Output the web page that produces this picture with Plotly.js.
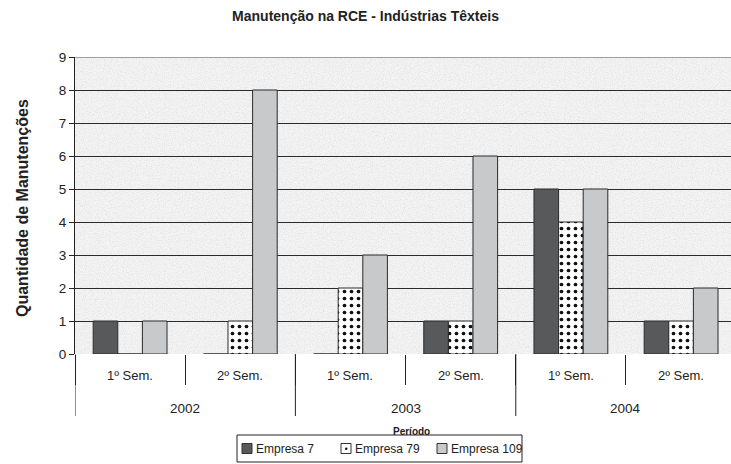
<!DOCTYPE html>
<html>
<head>
<meta charset="utf-8">
<script src="https://cdn.plot.ly/plotly-3.0.1.min.js"></script>
<style>html,body{margin:0;padding:0;background:#fff;}#chart{width:731px;height:464px;}</style>
</head>
<body>
<div id="chart"></div>
<script>
const years = ["2002", "2002", "2003", "2003", "2004", "2004"];
const semesters = ["1º Sem.", "2º Sem.", "1º Sem.", "2º Sem.", "1º Sem.", "2º Sem."];
const seriesNames = ["Empresa 7", "Empresa 79", "Empresa 109"];
const empresa7 = [1, 0, 0, 1, 5, 1];
const empresa79 = [0, 1, 2, 1, 4, 1];
const empresa109 = [1, 8, 3, 6, 5, 2];
const yTicks = [0, 1, 2, 3, 4, 5, 6, 7, 8, 9];

const categories = years.map((y, i) => y + ' ' + semesters[i]);

// plot-area geometry helpers (pixels -> paper)
const L = 75, R = 731, T = 57, B = 354;
const px = p => (p - L) / (R - L);
const py = p => (B - p) / (B - T);

const FONT = '"Liberation Sans", Arial, Helvetica, sans-serif';
const INK = '#222';

const noise = 'data:image/svg+xml;utf8,' + encodeURIComponent(
  '<svg xmlns="http://www.w3.org/2000/svg" width="656" height="297">' +
  '<filter id="n" x="0" y="0" width="100%" height="100%"><feTurbulence type="fractalNoise" baseFrequency="0.85" numOctaves="2" seed="3" result="t"/>' +
  '<feColorMatrix in="t" type="matrix" values="0 0 0 0 0.6  0 0 0 0 0.6  0 0 0 0 0.6  0 0 0 -3 1.65"/></filter>' +
  '<rect width="100%" height="100%" fill="#f3f3f3"/>' +
  '<rect width="100%" height="100%" filter="url(#n)" opacity="0.35"/></svg>');

const line = {color: '#2b2b2b', width: 1};
const fills = ['#58595b', '#ffffff', '#c8c9cb'];
const values = [empresa7, empresa79, empresa109];
const traces = values.map((v, k) => ({
  type: 'bar', name: seriesNames[k], x: categories, y: v, showlegend: false,
  marker: k === 1
    ? {color: '#ffffff', line: line, pattern: {shape: '.', fgcolor: '#111', bgcolor: '#ffffff', size: 7, solidity: 0.22}}
    : {color: fills[k], line: line}
}));

const annotations = [];
const shapes = [];

// semester labels
categories.forEach((c, i) => {
  annotations.push({xref: 'x', yref: 'paper', x: c, y: py(376), text: semesters[i],
    showarrow: false, xanchor: 'center', yanchor: 'middle', font: {size: 13, color: INK, family: FONT}});
});
// year labels and dividers
const uniqueYears = [...new Set(years)];
uniqueYears.forEach(yr => {
  const idx = years.map((y, i) => y === yr ? i : -1).filter(i => i >= 0);
  const mid = idx.reduce((a, b) => a + b, 0) / idx.length;
  annotations.push({xref: 'x', yref: 'paper', x: mid, y: py(408), text: yr,
    showarrow: false, xanchor: 'center', yanchor: 'middle', font: {size: 13.5, color: INK, family: FONT}});
  const start = idx[0] - 0.5;
  shapes.push({type: 'line', xref: 'x', yref: 'paper', x0: start, x1: start, y0: 0, y1: py(416),
    line: {color: INK, width: 1}});
});
// top border line at 9
shapes.push({type: 'line', xref: 'paper', yref: 'y', x0: 0, x1: 1, y0: 9, y1: 9, line: {color: '#a0a0a0', width: 2}});

// x axis title
annotations.push({xref: 'paper', yref: 'paper', x: px(411), y: py(431), text: '<b>Período</b>',
  showarrow: false, xanchor: 'center', yanchor: 'middle', font: {size: 10, color: INK, family: FONT}});
// y axis title
annotations.push({xref: 'paper', yref: 'paper', x: px(22), y: py(208), text: '<b>Quantidade de Manutenções</b>',
  textangle: -90, showarrow: false, xanchor: 'center', yanchor: 'middle', font: {size: 16, color: INK, family: FONT}});

// custom legend
const legTop = 435, legBot = 462, legMid = 448.5;
shapes.push({type: 'rect', xref: 'paper', yref: 'paper', x0: px(237), x1: px(522), y0: py(legTop), y1: py(legBot),
  line: {color: INK, width: 1}, fillcolor: '#ffffff'});
const symX = [242, 341, 437];
seriesNames.forEach((name, k) => {
  const s = symX[k];
  shapes.push({type: 'rect', xref: 'paper', yref: 'paper', x0: px(s), x1: px(s + 10), y0: py(legMid - 5), y1: py(legMid + 5),
    line: {color: '#333', width: 1}, fillcolor: fills[k]});
  if (k === 1) {
    shapes.push({type: 'circle', xref: 'paper', yref: 'paper', x0: px(s + 4), x1: px(s + 6.5), y0: py(legMid - 1), y1: py(legMid + 1.5),
      line: {color: '#111', width: 0}, fillcolor: '#111'});
  }
  annotations.push({xref: 'paper', yref: 'paper', x: px(s + 12), y: py(legMid), text: name, showarrow: false,
    xanchor: 'left', yanchor: 'middle', font: {size: 12, color: INK, family: FONT}});
});

const layout = {
  width: 731, height: 464,
  margin: {l: L, r: 731 - R, t: T, b: 464 - B},
  paper_bgcolor: '#ffffff',
  plot_bgcolor: '#f1f1f1',
  font: {family: FONT, size: 13, color: INK},
  title: {text: '<b>Manutenção na RCE - Indústrias Têxteis</b>', x: 0.5, xref: 'container', xanchor: 'center',
          y: 1 - 16 / 464, yanchor: 'middle', font: {size: 14, color: INK, family: FONT}},
  barmode: 'group',
  bargap: 0.33,
  bargroupgap: 0,
  showlegend: false,
  xaxis: {
    type: 'category',
    categoryorder: 'array', categoryarray: categories,
    range: [-0.5, 5.453],
    showgrid: false, showline: false, zeroline: false,
    showticklabels: false,
    ticks: 'outside', tickson: 'boundaries', ticklen: 30, tickcolor: INK, tickwidth: 1
  },
  yaxis: {
    range: [0, 9],
    tickvals: yTicks,
    ticktext: yTicks.map(String),
    showgrid: true, gridcolor: '#2b2b2b', gridwidth: 1,
    showline: true, linecolor: INK, linewidth: 1,
    ticks: 'outside', ticklen: 5, tickcolor: INK,
    zeroline: false,
    tickfont: {size: 13.5, color: INK, family: FONT}
  },
  annotations: annotations,
  shapes: shapes,
  images: [{source: noise, xref: 'paper', yref: 'paper', x: 0, y: 1, sizex: 1, sizey: 1,
            sizing: 'stretch', layer: 'below', xanchor: 'left', yanchor: 'top'}]
};

Plotly.newPlot('chart', traces, layout, {displayModeBar: false, staticPlot: true});
</script>
</body>
</html>
